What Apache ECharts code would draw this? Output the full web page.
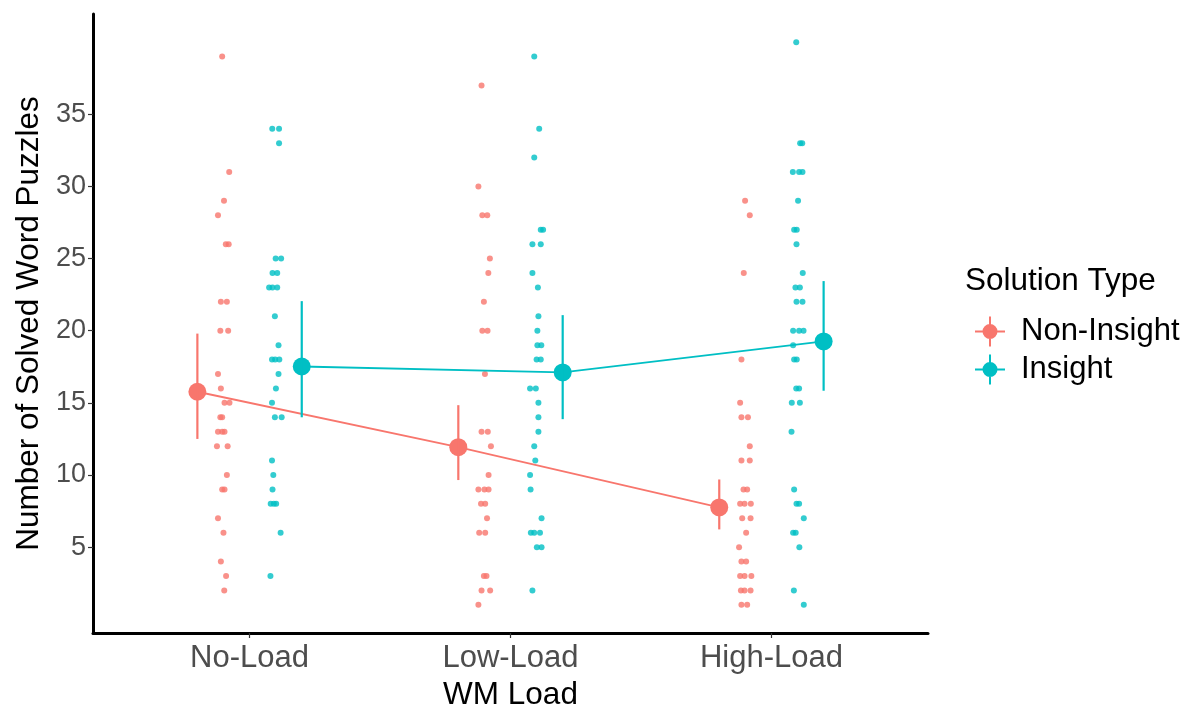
<!DOCTYPE html>
<html>
<head>
<meta charset="utf-8">
<script src="https://cdn.jsdelivr.net/npm/echarts@6/dist/echarts.min.js"></script>
<style>
html,body{margin:0;padding:0;background:#fff;}
#chart{width:1188px;height:711px;}
</style>
</head>
<body>
<div id="chart"></div>
<script>
// ---- data ----
const categories = ['No-Load', 'Low-Load', 'High-Load'];
const seriesNames = ['Non-Insight', 'Insight'];
const yTicks = [5, 10, 15, 20, 25, 30, 35];

// raw observations: [value, horizontal jitter in category units]
const noLoadNonInsight = [[39,-0.005],[31,0.022],[29,0.002],[28,-0.021],[26,0.009],[26,0.020],[22,-0.010],[22,0.013],[20,-0.012],[20,0.018],[17,-0.021],[16,-0.010],[15,0.004],[15,0.023],[14,-0.012],[14,-0.005],[13,-0.021],[13,-0.005],[13,0.004],[12,-0.025],[12,0.016],[10,0.013],[9,-0.005],[9,0.004],[7,-0.021],[6,0.000],[4,-0.010],[3,0.010],[2,0.003]];
const noLoadInsight = [[34,-0.013],[34,0.013],[33,0.013],[25,0.000],[25,0.021],[24,-0.012],[24,0.006],[23,-0.025],[23,-0.012],[23,0.006],[21,-0.003],[19,0.011],[18,-0.014],[18,-0.002],[18,0.014],[17,0.011],[16,0.001],[15,-0.014],[14,-0.003],[14,0.023],[11,-0.014],[10,-0.009],[9,-0.012],[8,-0.019],[8,-0.007],[8,0.002],[6,0.019],[3,-0.020]];
const lowLoadNonInsight = [[37,-0.011],[30,-0.023],[28,-0.008],[28,0.011],[25,0.021],[24,0.015],[22,-0.002],[20,-0.008],[20,0.012],[17,0.002],[13,-0.011],[13,0.013],[12,0.025],[10,0.016],[9,-0.023],[9,0.000],[9,0.016],[8,-0.013],[8,0.003],[7,0.010],[6,-0.020],[6,0.003],[3,-0.002],[3,0.008],[2,-0.011],[2,0.022],[1,-0.023]];
const lowLoadInsight = [[39,-0.009],[34,0.010],[32,-0.009],[27,0.016],[27,0.025],[26,-0.016],[26,0.016],[24,-0.016],[23,0.005],[21,0.007],[20,0.003],[19,0.003],[19,0.018],[18,0.000],[18,0.016],[16,-0.025],[16,-0.003],[15,0.007],[14,0.007],[13,0.007],[12,-0.009],[11,-0.005],[10,-0.025],[9,-0.023],[7,0.019],[6,-0.022],[6,-0.009],[6,0.013],[5,0.001],[5,0.019],[2,-0.016]];
const highLoadNonInsight = [[29,-0.001],[28,0.017],[24,-0.006],[18,-0.015],[15,-0.020],[14,-0.015],[14,0.010],[12,0.017],[11,-0.015],[11,0.017],[9,-0.007],[9,0.007],[8,-0.020],[8,-0.003],[8,0.021],[7,-0.012],[7,0.020],[6,0.003],[5,-0.024],[4,-0.015],[4,0.003],[3,-0.020],[3,-0.003],[3,0.023],[2,-0.017],[2,-0.003],[2,0.020],[1,-0.015],[1,0.007]];
const highLoadInsight = [[40,-0.005],[33,0.010],[33,0.018],[31,-0.018],[31,0.006],[31,0.019],[29,0.002],[27,-0.013],[27,-0.003],[26,-0.004],[24,0.020],[23,-0.008],[23,0.009],[22,-0.004],[22,0.019],[20,-0.017],[20,0.006],[20,0.023],[19,-0.017],[18,-0.013],[18,-0.003],[16,-0.005],[16,0.006],[15,-0.022],[15,0.009],[13,-0.023],[9,-0.013],[8,-0.004],[8,0.006],[7,0.024],[6,-0.017],[6,-0.007],[5,0.007],[2,-0.014],[1,0.024]];

// summary: means and interval bounds per category
const meanNonInsight  = [15.77, 11.93, 7.75];
const lowerNonInsight = [12.5, 9.65, 6.23];
const upperNonInsight = [19.8, 14.84, 9.69];
const meanInsight  = [17.52, 17.11, 19.26];
const lowerInsight = [14.0, 13.87, 15.84];
const upperInsight = [22.05, 21.08, 23.44];

// ---- presentation ----
const colors = ['#F8766D', '#00BFC4'];
const pointDodge = [-0.1, 0.1];
const meanDodge = [-0.2, 0.2];
const FONT = 'Liberation Sans, Arial, sans-serif';

const rawGroups = [
  [noLoadNonInsight, lowLoadNonInsight, highLoadNonInsight],
  [noLoadInsight, lowLoadInsight, highLoadInsight]
];
const means = [meanNonInsight, meanInsight];
const lowers = [lowerNonInsight, lowerInsight];
const uppers = [upperNonInsight, upperInsight];

const series = [];
// jittered raw points
rawGroups.forEach((groups, s) => {
  const data = [];
  groups.forEach((pts, c) => {
    pts.forEach(p => data.push([c + 1 + pointDodge[s] + p[1], p[0]]));
  });
  series.push({
    name: seriesNames[s] + ' points',
    type: 'scatter',
    data: data,
    symbol: 'circle',
    symbolSize: 6,
    itemStyle: { color: colors[s] },
    z: 2,
    silent: true
  });
});
// mean lines with points
means.forEach((m, s) => {
  series.push({
    name: seriesNames[s],
    type: 'line',
    data: m.map((v, c) => [c + 1 + meanDodge[s], v]),
    symbol: 'circle',
    symbolSize: 18,
    showSymbol: true,
    itemStyle: { color: colors[s] },
    lineStyle: { color: colors[s], width: 1.8 },
    z: 3,
    animation: false
  });
});
// interval bars
means.forEach((m, s) => {
  series.push({
    name: seriesNames[s] + ' range',
    type: 'custom',
    data: m.map((v, c) => [c + 1 + meanDodge[s], lowers[s][c], uppers[s][c]]),
    encode: { x: 0, y: [1, 2] },
    z: 4,
    renderItem: function (params, api) {
      const p1 = api.coord([api.value(0), api.value(1)]);
      const p2 = api.coord([api.value(0), api.value(2)]);
      return {
        type: 'line',
        shape: { x1: p1[0], y1: p1[1], x2: p2[0], y2: p2[1] },
        style: { stroke: colors[s], lineWidth: 2.2 }
      };
    }
  });
});

const legendIcon = 'path://M0,14 H30 V16 H0 Z M14,0 H16 V30 H14 Z M7.5,15 A7.5,7.5 0 1,1 22.5,15 A7.5,7.5 0 1,1 7.5,15 Z';

const option = {
  animation: false,
  backgroundColor: '#ffffff',
  textStyle: { fontFamily: FONT },
  grid: { left: 93, top: 14, right: 260, bottom: 78, containLabel: false, outerBoundsMode: 'none' },
  title: {
    text: 'Solution Type',
    left: 965, top: 265, padding: 0,
    textStyle: { fontSize: 31.5, fontWeight: 'normal', color: '#000', fontFamily: FONT }
  },
  legend: {
    data: seriesNames,
    orient: 'vertical',
    left: 970, top: 311,
    itemWidth: 30, itemHeight: 30, itemGap: 7,
    icon: legendIcon,
    textStyle: { fontSize: 31, color: '#000', padding: [0, 0, 0, 11], fontFamily: FONT },
    selectedMode: false
  },
  xAxis: {
    type: 'value',
    min: 0.4, max: 3.6,
    name: 'WM Load',
    nameLocation: 'middle',
    nameGap: 43,
    nameTextStyle: { fontSize: 31.5, color: '#000' },
    axisLine: { show: true, onZero: false, lineStyle: { color: '#000', width: 3 } },
    axisTick: { show: true, customValues: [1, 2, 3], length: 5, lineStyle: { color: '#333', width: 1.2 } },
    axisLabel: {
      customValues: [1, 2, 3],
      formatter: v => categories[Math.round(v) - 1] || '',
      fontSize: 31, color: '#4D4D4D', margin: 10
    },
    splitLine: { show: false }
  },
  yAxis: {
    type: 'value',
    min: -0.95, max: 41.95,
    name: 'Number of Solved Word Puzzles',
    nameLocation: 'middle',
    nameGap: 42,
    nameRotate: 90,
    nameTextStyle: { fontSize: 31.5, color: '#000' },
    axisLine: { show: true, onZero: false, lineStyle: { color: '#000', width: 3 } },
    axisTick: { show: true, customValues: yTicks, length: 5, lineStyle: { color: '#333', width: 1.2 } },
    axisLabel: { customValues: yTicks, fontSize: 27, color: '#4D4D4D', margin: 7 },
    splitLine: { show: false }
  },
  series: series
};

const chart = echarts.init(document.getElementById('chart'), null, { renderer: 'canvas' });
chart.setOption(option);
</script>
</body>
</html>
